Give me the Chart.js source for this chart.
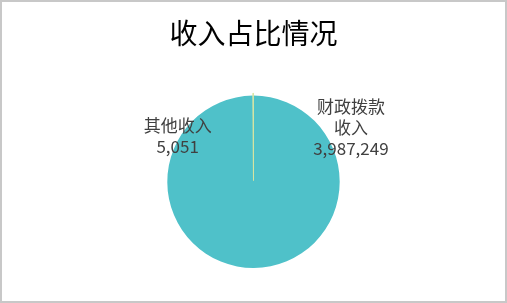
<!DOCTYPE html>
<html>
<head>
<meta charset="utf-8">
<script src="https://cdn.jsdelivr.net/npm/chart.js@4"></script>
<style>
  html, body { margin: 0; padding: 0; background: #fff; }
  .box { width: 503px; height: 299px; border: 2px solid #c8c8c8; position: relative; }
  canvas { display: block; }
</style>
</head>
<body>
<div class="box"><canvas id="pieChart" width="503" height="299"></canvas></div>
<script>
// 数据
var titleText = '收入占比情况';
var labels = ['财政拨款收入', '其他收入'];
var labelLines = [['财政拨款', '收入'], ['其他收入']];
var values = [3987249, 5051];
var colors = ['#4fc1c9', '#d6e4a0'];

// 标签位置 (相对于半径)
var labelPos = [[1.13, -0.63], [-0.88, -0.53]];

var pieLabels = {
    id: 'pieLabels',
    afterDatasetsDraw: function (chart) {
        var ctx = chart.ctx;
        var meta = chart.getDatasetMeta(0);
        ctx.save();
        ctx.font = '17px "Noto Sans CJK SC", "Noto Sans", sans-serif';
        ctx.fillStyle = '#404040';
        ctx.textAlign = 'center';
        ctx.textBaseline = 'middle';
        for (var i = 0; i < meta.data.length; i++) {
            var arc = meta.data[i];
            var r = arc.outerRadius;
            var cx = chart.chartArea.left + chart.chartArea.width / 2;
            var cy = chart.chartArea.top + chart.chartArea.height / 2;
            var x = cx + labelPos[i][0] * r;
            var y = cy + labelPos[i][1] * r;
            var lines = labelLines[i].concat([values[i].toLocaleString('en-US')]);
            var lh = 21;
            var y0 = y - (lines.length - 1) * lh / 2;
            for (var j = 0; j < lines.length; j++) {
                ctx.fillText(lines[j], x, y0 + j * lh);
            }
        }
        ctx.restore();
    }
};

const pie = document.getElementById('pieChart');

new Chart(pie, {
    type: 'pie',
    data: {
        labels: labels,
        datasets: [{
            data: values,
            backgroundColor: colors,
            borderColor: colors,
            borderWidth: [0, 1],
            hoverBorderWidth: [0, 1],
            offset: [0, 5],
            hoverOffset: 0
        }]
    },
    options: {
        responsive: false,
        animation: false,
        events: [],
        layout: {
            padding: { top: 8, bottom: 30, left: 0, right: 0 }
        },
        plugins: {
            legend: { display: false },
            tooltip: { enabled: false },
            title: {
                display: true,
                text: titleText,
                color: '#000',
                font: { family: '"Noto Sans CJK SC", sans-serif', size: 28, weight: 'normal' },
                padding: { top: 7, bottom: 42 }
            }
        }
    },
    plugins: [pieLabels]
});
</script>
</body>
</html>
